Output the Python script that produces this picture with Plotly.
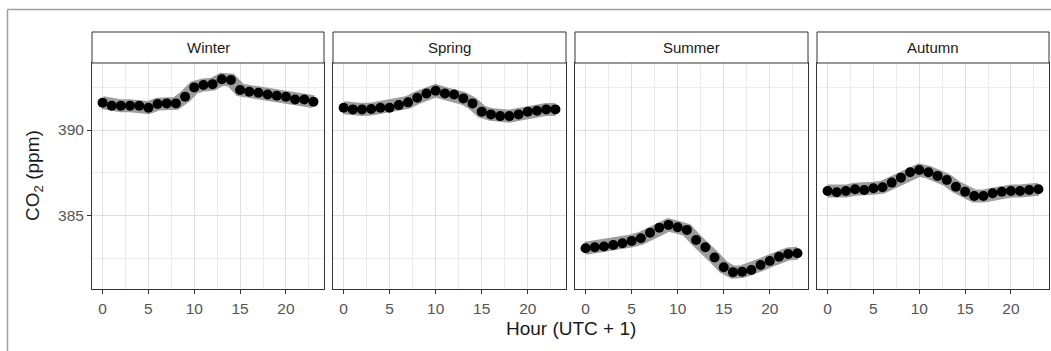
import plotly.graph_objects as go

hours = list(range(24))
seasons = ["Winter", "Spring", "Summer", "Autumn"]
winter = [391.59, 391.41, 391.41, 391.41, 391.41, 391.30, 391.51, 391.55, 391.55, 391.94,
          392.48, 392.62, 392.67, 392.95, 392.91, 392.33, 392.23, 392.17, 392.07, 391.99,
          391.94, 391.78, 391.78, 391.65]
spring = [391.30, 391.20, 391.20, 391.22, 391.30, 391.30, 391.45, 391.61, 391.88, 392.13,
          392.29, 392.13, 392.07, 391.84, 391.55, 391.07, 390.91, 390.81, 390.81, 390.91,
          391.07, 391.12, 391.20, 391.20]
summer = [383.12, 383.18, 383.22, 383.31, 383.41, 383.55, 383.70, 384.03, 384.32, 384.48,
          384.34, 384.19, 383.60, 383.18, 382.58, 382.02, 381.73, 381.76, 381.86, 382.15,
          382.38, 382.63, 382.79, 382.83]
autumn = [386.45, 386.38, 386.45, 386.55, 386.51, 386.61, 386.67, 386.94, 387.23, 387.54,
          387.67, 387.54, 387.33, 387.09, 386.70, 386.41, 386.16, 386.16, 386.32, 386.41,
          386.45, 386.45, 386.51, 386.55]
series = [winter, spring, summer, autumn]

x_ticks = [0, 5, 10, 15, 20]
y_ticks = [385, 390]

FONT = "Liberation Sans, Arial, sans-serif"
W, H = 1051, 351
ML, MR, MT, MB = 92, 2, 32, 62
plot_w = W - ML - MR
plot_h = H - MT - MB

def px_x(p):
    return (p - ML) / plot_w

def px_y(p):
    return (H - MB - p) / plot_h

panels_px = [(92, 324), (333, 566), (575, 808), (817, 1049)]
panel_top = px_y(63)

fig = go.Figure()
layout = dict(
    width=W, height=H, autosize=False,
    margin=dict(l=ML, r=MR, t=MT, b=MB),
    paper_bgcolor="white", plot_bgcolor="white",
    showlegend=False,
    font=dict(family=FONT, size=15, color="#4d4d4d"),
)

shapes = []
annotations = []
for i, (name, vals) in enumerate(zip(seasons, series)):
    s = "" if i == 0 else str(i + 1)
    xa, ya = "x" + s, "y" + s
    fig.add_trace(go.Scatter(x=hours, y=vals, mode="lines", xaxis=xa, yaxis=ya,
                             line=dict(color="rgba(140,140,140,0.85)", width=13),
                             hoverinfo="skip"))
    fig.add_trace(go.Scatter(x=hours, y=vals, mode="markers", xaxis=xa, yaxis=ya,
                             marker=dict(color="black", size=10)))
    x0, x1 = panels_px[i]
    layout["xaxis" + s] = dict(
        domain=[px_x(x0), px_x(x1)], anchor=ya, range=[-1.15, 24.15],
        tickmode="array", tickvals=x_ticks, ticktext=[str(v) for v in x_ticks],
        ticks="outside", ticklen=4, tickcolor="#333", tickwidth=1,
        ticklabelstandoff=1,
        showline=True, linecolor="#333", linewidth=1, mirror=True,
        showgrid=True, gridcolor="#e0e0e0", gridwidth=1,
        minor=dict(tickmode="array", tickvals=[2.5, 7.5, 12.5, 17.5, 22.5],
                   showgrid=True, gridcolor="#ececec", gridwidth=0.7, ticks=""),
        zeroline=False, tickfont=dict(size=15.5, color="#555"),
    )
    layout["yaxis" + s] = dict(
        domain=[0, panel_top], anchor=xa, range=[380.75, 393.9],
        tickmode="array", tickvals=y_ticks, ticktext=[str(v) for v in y_ticks],
        ticks="outside" if i == 0 else "", ticklen=4, tickcolor="#333", tickwidth=1,
        showticklabels=(i == 0),
        showline=True, linecolor="#333", linewidth=1, mirror=True,
        showgrid=True, gridcolor="#e0e0e0", gridwidth=1,
        minor=dict(tickmode="array", tickvals=[382.5, 387.5, 392.5],
                   showgrid=True, gridcolor="#ececec", gridwidth=0.7, ticks=""),
        zeroline=False, tickfont=dict(size=15.5, color="#555"),
    )
    # strip
    shapes.append(dict(type="rect", xref=xa + " domain", yref="paper",
                       x0=0, x1=1, y0=panel_top, y1=1,
                       fillcolor="white", line=dict(color="#333", width=1)))
    annotations.append(dict(text=name, xref=xa + " domain", yref="paper",
                            x=0.5, y=px_y(47.5), xanchor="center", yanchor="middle",
                            showarrow=False, font=dict(size=15, color="#1a1a1a")))

# axis titles
annotations.append(dict(text="Hour (UTC + 1)", xref="paper", yref="paper",
                        x=px_x(571), y=px_y(328), xanchor="center", yanchor="middle",
                        showarrow=False, font=dict(size=19, color="#1a1a1a")))
annotations.append(dict(text="CO<sub>2</sub> (ppm)", xref="paper", yref="paper",
                        x=px_x(34), y=px_y(176), xanchor="center", yanchor="middle",
                        textangle=-90, showarrow=False,
                        font=dict(size=19, color="#1a1a1a")))

# outer frame lines
shapes.append(dict(type="line", xref="paper", yref="paper",
                   x0=px_x(7.5), x1=px_x(1060), y0=px_y(9.5), y1=px_y(9.5),
                   line=dict(color="#a0a0a0", width=1.5)))
shapes.append(dict(type="line", xref="paper", yref="paper",
                   x0=px_x(7.5), x1=px_x(7.5), y0=px_y(9.5), y1=px_y(360),
                   line=dict(color="#a0a0a0", width=1.5)))

layout["shapes"] = shapes
layout["annotations"] = annotations
fig.update_layout(**layout)
fig.write_html("out.html")
